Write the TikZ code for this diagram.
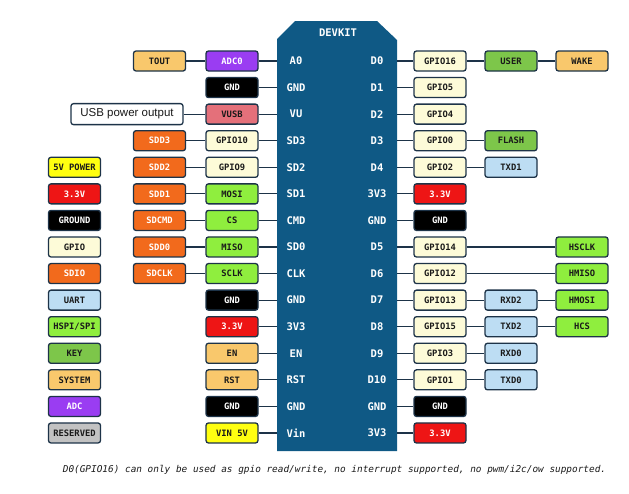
\documentclass[tikz,border=0pt]{standalone}
\usepackage{fontspec}
\setmonofont{DejaVu Sans Mono}
\setsansfont{Liberation Sans}
\definecolor{board}{HTML}{0F5985}
\definecolor{edge}{HTML}{1D3348}
\definecolor{ink}{HTML}{1A1A1A}
\definecolor{csys}{HTML}{F9C86C}
\definecolor{cadc}{HTML}{9A3DF2}
\definecolor{cvusb}{HTML}{E4707A}
\definecolor{csdio}{HTML}{F26A1C}
\definecolor{cgpio}{HTML}{FDFBD8}
\definecolor{cfive}{HTML}{FFFF10}
\definecolor{cthree}{HTML}{EE1515}
\definecolor{cspi}{HTML}{8FEE3E}
\definecolor{ckey}{HTML}{7DC64A}
\definecolor{cuart}{HTML}{BDDDF3}
\definecolor{crsv}{HTML}{C2C2C2}
\begin{document}
\begin{tikzpicture}[x=1pt,y=-1pt,
  box/.style={draw=edge, line width=1.3pt, rounded corners=2.5pt,
    minimum width=52pt, minimum height=20pt, inner sep=0pt,
    font=\ttfamily\bfseries\fontsize{8.8}{10}\selectfont, text=ink},
  sys/.style={box, fill=csys},
  adc/.style={box, fill=cadc, text=white},
  gnd/.style={box, fill=black, text=white},
  vusb/.style={box, fill=cvusb},
  sdio/.style={box, fill=csdio, text=white},
  gpio/.style={box, fill=cgpio},
  five/.style={box, fill=cfive},
  three/.style={box, fill=cthree, text=white},
  spi/.style={box, fill=cspi},
  keyc/.style={box, fill=ckey},
  uart/.style={box, fill=cuart},
  rsv/.style={box, fill=crsv},
  pin/.style={text=white, inner sep=0pt,
    font=\ttfamily\bfseries\fontsize{10.5}{12}\selectfont},
  wire/.style={draw=edge, line width=1.2pt}]
\useasboundingbox (0,0) rectangle (629,493);
\def\rr{26.57}

% board outline with chamfered top corners
\fill[board] (277,39) -- (295,21) -- (377,21) -- (397,40) -- (397,451) -- (277,451) -- cycle;
\node[pin] (devkit) at (338,33) {DEVKIT};

% pin labels and the edge points where wires meet the board
\foreach \i/\l/\r in {0/A0/D0, 1/GND/D1, 2/VU/D2, 3/SD3/D3, 4/SD2/D4,
    5/SD1/3V3, 6/CMD/GND, 7/SD0/D5, 8/CLK/D6, 9/GND/D7, 10/3V3/D8,
    11/EN/D9, 12/RST/D10, 13/GND/GND, 14/Vin/3V3} {
  \node[pin] (pl\i) at (296,{61+\i*\rr}) {\l};
  \node[pin] (pr\i) at (377,{61+\i*\rr}) {\r};
  \coordinate (el\i) at (277,{61+\i*\rr});
  \coordinate (er\i) at (397,{61+\i*\rr});
}

% left side, next to the board
\node[adc]   (a0)  at (232,{61+0*\rr}) {ADC0};
\node[gnd]   (a1)  at (232,{61+1*\rr}) {GND};
\node[vusb]  (a2)  at (232,{61+2*\rr}) {VUSB};
\node[gpio]  (a3)  at (232,{61+3*\rr}) {GPIO10};
\node[gpio]  (a4)  at (232,{61+4*\rr}) {GPIO9};
\node[spi]   (a5)  at (232,{61+5*\rr}) {MOSI};
\node[spi]   (a6)  at (232,{61+6*\rr}) {CS};
\node[spi]   (a7)  at (232,{61+7*\rr}) {MISO};
\node[spi]   (a8)  at (232,{61+8*\rr}) {SCLK};
\node[gnd]   (a9)  at (232,{61+9*\rr}) {GND};
\node[three] (a10) at (232,{61+10*\rr}) {3.3V};
\node[sys]   (a11) at (232,{61+11*\rr}) {EN};
\node[sys]   (a12) at (232,{61+12*\rr}) {RST};
\node[gnd]   (a13) at (232,{61+13*\rr}) {GND};
\node[five]  (a14) at (232,{61+14*\rr}) {VIN 5V};

% left side, outer column
\node[sys]  (b0) at (159.5,{61+0*\rr}) {TOUT};
\node[box, fill=white, minimum width=112pt, minimum height=21pt,
  font=\sffamily\fontsize{11.5}{13}\selectfont] (b2) at (127,{61+2*\rr}) {USB power output};
\node[sdio] (b3) at (159.5,{61+3*\rr}) {SDD3};
\node[sdio] (b4) at (159.5,{61+4*\rr}) {SDD2};
\node[sdio] (b5) at (159.5,{61+5*\rr}) {SDD1};
\node[sdio] (b6) at (159.5,{61+6*\rr}) {SDCMD};
\node[sdio] (b7) at (159.5,{61+7*\rr}) {SDD0};
\node[sdio] (b8) at (159.5,{61+8*\rr}) {SDCLK};

% colour legend
\node[five]  (g4)  at (74.5,{61+4*\rr}) {5V POWER};
\node[three] (g5)  at (74.5,{61+5*\rr}) {3.3V};
\node[gnd]   (g6)  at (74.5,{61+6*\rr}) {GROUND};
\node[gpio]  (g7)  at (74.5,{61+7*\rr}) {GPIO};
\node[sdio]  (g8)  at (74.5,{61+8*\rr}) {SDIO};
\node[uart]  (g9)  at (74.5,{61+9*\rr}) {UART};
\node[spi]   (g10) at (74.5,{61+10*\rr}) {HSPI/SPI};
\node[keyc]  (g11) at (74.5,{61+11*\rr}) {KEY};
\node[sys]   (g12) at (74.5,{61+12*\rr}) {SYSTEM};
\node[adc]   (g13) at (74.5,{61+13*\rr}) {ADC};
\node[rsv]   (g14) at (74.5,{61+14*\rr}) {RESERVED};

% right side, next to the board
\node[gpio]  (c0)  at (440,{61+0*\rr}) {GPIO16};
\node[gpio]  (c1)  at (440,{61+1*\rr}) {GPIO5};
\node[gpio]  (c2)  at (440,{61+2*\rr}) {GPIO4};
\node[gpio]  (c3)  at (440,{61+3*\rr}) {GPIO0};
\node[gpio]  (c4)  at (440,{61+4*\rr}) {GPIO2};
\node[three] (c5)  at (440,{61+5*\rr}) {3.3V};
\node[gnd]   (c6)  at (440,{61+6*\rr}) {GND};
\node[gpio]  (c7)  at (440,{61+7*\rr}) {GPIO14};
\node[gpio]  (c8)  at (440,{61+8*\rr}) {GPIO12};
\node[gpio]  (c9)  at (440,{61+9*\rr}) {GPIO13};
\node[gpio]  (c10) at (440,{61+10*\rr}) {GPIO15};
\node[gpio]  (c11) at (440,{61+11*\rr}) {GPIO3};
\node[gpio]  (c12) at (440,{61+12*\rr}) {GPIO1};
\node[gnd]   (c13) at (440,{61+13*\rr}) {GND};
\node[three] (c14) at (440,{61+14*\rr}) {3.3V};

% right side, middle column
\node[keyc] (d0)  at (511,{61+0*\rr}) {USER};
\node[keyc] (d3)  at (511,{61+3*\rr}) {FLASH};
\node[uart] (d4)  at (511,{61+4*\rr}) {TXD1};
\node[uart] (d9)  at (511,{61+9*\rr}) {RXD2};
\node[uart] (d10) at (511,{61+10*\rr}) {TXD2};
\node[uart] (d11) at (511,{61+11*\rr}) {RXD0};
\node[uart] (d12) at (511,{61+12*\rr}) {TXD0};

% right side, outer column
\node[sys] (e0)  at (582,{61+0*\rr}) {WAKE};
\node[spi] (e7)  at (582,{61+7*\rr}) {HSCLK};
\node[spi] (e8)  at (582,{61+8*\rr}) {HMISO};
\node[spi] (e9)  at (582,{61+9*\rr}) {HMOSI};
\node[spi] (e10) at (582,{61+10*\rr}) {HCS};

% wires between the board edge and the boxes, and between box columns
\foreach \i in {0,...,14} {
  \draw[wire] (a\i.east) -- (el\i);
  \draw[wire] (er\i) -- (c\i.west);
}
\foreach \i in {0,2,3,4,5,6,7,8} \draw[wire] (b\i.east) -- (a\i.west);
\foreach \i in {0,3,4,9,10,11,12} \draw[wire] (c\i.east) -- (d\i.west);
\foreach \i in {0,9,10} \draw[wire] (d\i.east) -- (e\i.west);
\foreach \i in {7,8} \draw[wire] (c\i.east) -- (e\i.west);

% footnote
\node[text=ink, font=\ttfamily\itshape\fontsize{9.4}{11}\selectfont] (note) at (334.5,470)
  {D0(GPIO16) can only be used as gpio read/write, no interrupt supported, no pwm/i2c/ow supported.};
\end{tikzpicture}
\end{document}
